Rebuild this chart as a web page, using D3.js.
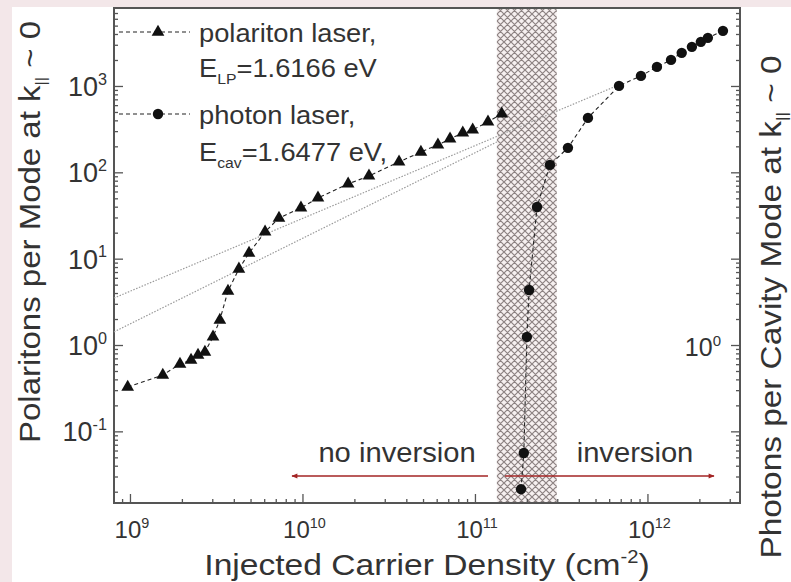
<!DOCTYPE html>
<html>
<head>
<meta charset="utf-8">
<script src="https://cdn.jsdelivr.net/npm/d3@7"></script>
<style>
  html, body { margin: 0; padding: 0; background: #f3e7e9; }
  svg { display: block; font-family: "Liberation Sans", Arial, sans-serif; }
</style>
</head>
<body>
<div id="chart"></div>
<script>
// polariton laser (triangles): carrier density, polaritons per mode
const polDensity = [9.7e8, 1.55e9, 1.95e9, 2.26e9, 2.48e9, 2.72e9, 3.03e9, 3.32e9, 3.70e9, 4.28e9,
  4.9e9, 6.07e9, 7.31e9, 9.8e9, 1.23e10, 1.84e10, 2.43e10, 3.63e10, 4.86e10, 6.1e10,
  7.17e10, 8.5e10, 9.7e10, 1.19e11, 1.43e11];
const polCount = [0.326, 0.449, 0.602, 0.670, 0.766, 0.830, 1.24, 1.95, 4.22, 7.6,
  11.6, 20.4, 29.6, 38.7, 50.5, 73.4, 90.9, 132, 172, 208,
  244, 286, 310, 384, 475];
// photon laser (circles)
const phoDensity = [1.85e11, 1.92e11, 2.0e11, 2.06e11, 2.29e11, 2.72e11, 3.46e11, 4.52e11, 6.84e11,
  9.17e11, 1.135e12, 1.37e12, 1.58e12, 1.81e12, 2.04e12, 2.24e12, 2.74e12];
const phoCount = [0.0214, 0.0561, 1.24, 4.34, 39.7, 122, 192, 427, 1002,
  1309, 1664, 2005, 2420, 2840, 3245, 3608, 4350];
// dotted guide lines (end points)
const fitUpper = [[8.08e8, 3.5], [6.84e11, 1030]];
const fitLower = [[8.08e8, 1.42], [1.34e11, 225]];
// shaded transition band
const band = [1.34e11, 2.98e11];
const xDomain = [8.08e8, 3.44e12];
const yDomain = [0.0148, 8000];
const xMajor = [9, 10, 11, 12];
const yMajor = [-1, 0, 1, 2, 3];
const yRightMajor = [0];

const W = 791, H = 582;
const L = 114, R = 740, T = 8, B = 503;
const ink = '#333';
const red = '#a32424';

const svg = d3.select('#chart').append('svg').attr('width', W).attr('height', H);
svg.append('rect').attr('x', 12).attr('y', 7).attr('width', W - 12).attr('height', H - 7).attr('fill', '#fff');

const defs = svg.append('defs');
const pat = defs.append('pattern').attr('id', 'hatch').attr('width', 7).attr('height', 7)
  .attr('patternUnits', 'userSpaceOnUse');
pat.append('rect').attr('width', 7).attr('height', 7).attr('fill', '#f6f0f0');
pat.append('path').attr('d', 'M0,0L7,7M7,0L0,7M-1,6L1,8M6,-1L8,1').attr('stroke', '#8d8383').attr('stroke-width', 1.2);
defs.append('marker').attr('id', 'arr').attr('viewBox', '0 0 10 10').attr('refX', 9).attr('refY', 5)
  .attr('markerWidth', 10).attr('markerHeight', 6).attr('markerUnits', 'userSpaceOnUse').attr('orient', 'auto')
  .append('path').attr('d', 'M0,1L10,5L0,9Z').attr('fill', red);

const x = d3.scaleLog().domain(xDomain).range([L, R]);
const y = d3.scaleLog().domain(yDomain).range([B, T]);

// band
svg.append('rect').attr('x', x(band[0])).attr('y', T).attr('width', x(band[1]) - x(band[0]))
  .attr('height', B - T).attr('fill', 'url(#hatch)');

// minor / major ticks
function minors(lo, hi) {
  const out = [];
  for (let e = Math.floor(Math.log10(lo)); e <= Math.ceil(Math.log10(hi)); e++)
    for (let m = 2; m <= 9; m++) { const v = m * Math.pow(10, e); if (v > lo && v < hi) out.push(v); }
  return out;
}
const xMin = minors(xDomain[0], xDomain[1]);
const yMin = minors(yDomain[0], yDomain[1]);

function axisG(axis, tr) {
  const g = svg.append('g').attr('transform', tr).call(axis);
  g.select('.domain').remove();
  g.selectAll('line').attr('stroke', '#555').attr('stroke-width', 1.3);
  return g;
}
axisG(d3.axisBottom(x).tickValues(xMin).tickSize(-4).tickFormat(''), `translate(0,${B})`);
axisG(d3.axisBottom(x).tickValues(xMajor.map(e => Math.pow(10, e))).tickSize(-9).tickFormat(''), `translate(0,${B})`);
axisG(d3.axisLeft(y).tickValues(yMin).tickSize(-4).tickFormat(''), `translate(${L},0)`);
axisG(d3.axisLeft(y).tickValues(yMajor.map(e => Math.pow(10, e))).tickSize(-9).tickFormat(''), `translate(${L},0)`);
axisG(d3.axisRight(y).tickValues(yMin).tickSize(-4).tickFormat(''), `translate(${R},0)`);
axisG(d3.axisRight(y).tickValues(yMajor.map(e => Math.pow(10, e))).tickSize(-9).tickFormat(''), `translate(${R},0)`);

svg.append('rect').attr('x', L).attr('y', T).attr('width', R - L).attr('height', B - T)
  .attr('fill', 'none').attr('stroke', '#555').attr('stroke-width', 2);

// text helper: positioned text, slightly widened along its direction
function txt(xx, yy, fs, rot, sx) {
  const r = rot ? ` rotate(${rot})` : '';
  return svg.append('text').attr('transform', `translate(${xx},${yy})${r} scale(${sx || 1.08},1)`)
    .attr('font-size', fs).attr('fill', ink);
}
function pow10(sel, e, fs) {
  sel.append('tspan').text('10');
  sel.append('tspan').attr('dy', -fs * 0.42).attr('font-size', fs * 0.6).text(e);
}
xMajor.forEach(e => pow10(txt(x(Math.pow(10, e)) + 2, 538, 24, 0, 1).attr('text-anchor', 'middle'), e, 24));
yMajor.forEach(e => pow10(txt(107, y(Math.pow(10, e)) + 10, 27, 0, 1).attr('text-anchor', 'end'), e, 27));
yRightMajor.forEach(e => pow10(txt(721, y(Math.pow(10, e)) + 11, 25, 0, 1).attr('text-anchor', 'end'), e, 25));

// guide lines
const line = d3.line().x(d => x(d[0])).y(d => y(d[1]));
[fitUpper, fitLower].forEach(f => svg.append('path').attr('d', line(f)).attr('fill', 'none')
  .attr('stroke', '#9a9a9a').attr('stroke-width', 1.2).attr('stroke-dasharray', '1.5,1.5'));

// series
const pol = polDensity.map((d, i) => [d, polCount[i]]);
const pho = phoDensity.map((d, i) => [d, phoCount[i]]);
[pol, pho].forEach(s => svg.append('path').attr('d', line(s)).attr('fill', 'none')
  .attr('stroke', '#222').attr('stroke-width', 1.1).attr('stroke-dasharray', '4,3'));
const tri = d3.symbol().type(d3.symbolTriangle).size(70);
svg.selectAll('path.tri').data(pol).enter().append('path').attr('class', 'tri')
  .attr('d', tri).attr('transform', d => `translate(${x(d[0])},${y(d[1])})`).attr('fill', '#111');
svg.selectAll('circle.pho').data(pho).enter().append('circle').attr('class', 'pho')
  .attr('cx', d => x(d[0])).attr('cy', d => y(d[1])).attr('r', 5.2).attr('fill', '#111');

// legend
const leg = [{ yy: 32, sym: 'tri' }, { yy: 114, sym: 'cir' }];
leg.forEach(l => {
  svg.append('line').attr('x1', 119).attr('x2', 190).attr('y1', l.yy).attr('y2', l.yy)
    .attr('stroke', '#222').attr('stroke-width', 1.1).attr('stroke-dasharray', '4,3');
  if (l.sym === 'tri') svg.append('path').attr('d', tri).attr('transform', `translate(158,${l.yy})`).attr('fill', '#111');
  else svg.append('circle').attr('cx', 158).attr('cy', l.yy).attr('r', 5.2).attr('fill', '#111');
});
const lf = 26;
txt(199, 42, lf, 0, 1.05).text('polariton laser,');
let t = txt(199, 77, lf, 0, 1.05);
t.append('tspan').text('E');
t.append('tspan').attr('dy', 7).attr('font-size', 15).text('LP');
t.append('tspan').attr('dy', -7).text('=1.6166 eV');
txt(199, 124, lf, 0, 1.05).text('photon laser,');
t = txt(199, 161, lf, 0, 1.05);
t.append('tspan').text('E');
t.append('tspan').attr('dy', 7).attr('font-size', 15).text('cav');
t.append('tspan').attr('dy', -7).text('=1.6477 eV,');

// inversion arrows
svg.append('line').attr('x1', 488).attr('x2', 292).attr('y1', 476).attr('y2', 476)
  .attr('stroke', red).attr('stroke-width', 1.4).attr('marker-end', 'url(#arr)');
svg.append('line').attr('x1', 505).attr('x2', 714).attr('y1', 476).attr('y2', 476)
  .attr('stroke', red).attr('stroke-width', 1.4).attr('marker-end', 'url(#arr)');
txt(397, 462, 27, 0, 1.08).attr('text-anchor', 'middle').text('no inversion');
txt(635, 462, 27, 0, 1.08).attr('text-anchor', 'middle').text('inversion');

// axis titles
const af = 30;
t = txt(427, 575, af, 0, 1.12).attr('text-anchor', 'middle');
t.append('tspan').text('Injected Carrier Density (cm');
t.append('tspan').attr('dy', -12).attr('font-size', 18).text('-2');
t.append('tspan').attr('dy', 12).text(')');

function yTitle(cx, cy, fs, sx, label) {
  const tt = txt(cx, cy, fs, -90, sx).attr('text-anchor', 'middle');
  tt.append('tspan').text(label + 'k');
  tt.append('tspan').attr('dy', 6).attr('font-size', 15).text('||');
  tt.append('tspan').attr('dy', -6).text(' ~ 0');
}
yTitle(40, 232, af, 1.1, 'Polaritons per Mode at ');
yTitle(781, 307, 29, 1.15, 'Photons per Cavity Mode at ');
</script>
</body>
</html>
